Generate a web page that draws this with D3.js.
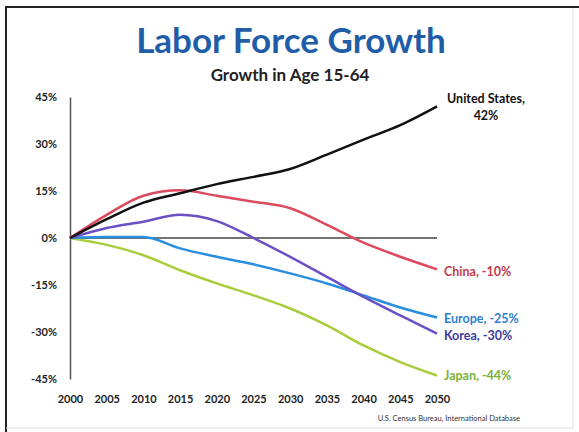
<!DOCTYPE html>
<html><head><meta charset="utf-8">
<script src="https://cdn.jsdelivr.net/npm/d3@7"></script>
<style>body{margin:0;background:#fff}svg{display:block}</style>
</head><body>
<svg id="c" width="579" height="432"></svg>
<script>
const years = [2000,2005,2010,2015,2020,2025,2030,2035,2040,2045,2050];
const yTicks = [45,30,15,0,-15,-30,-45];
const usValues = [0,6,11.3,14.3,17.2,19.5,22,26.6,31.4,36,42];
const chinaValues = [0,7.4,13.5,15.2,13.5,11.6,9.5,4.2,-1.5,-6,-10];
const koreaValues = [0,3.2,5.2,7.4,5.4,0,-6,-12.4,-18.8,-24.7,-30.5];
const europeValues = [0,0.3,0.3,-3.3,-6,-8.4,-11.3,-14.5,-18.3,-22.2,-25.4];
const japanValues = [0,-2.2,-5.5,-10.3,-14.5,-18.3,-22.5,-27.9,-34.3,-39.6,-43.9];
const seriesNames = ["United States","China","Korea","Europe","Japan"];
const seriesLabels = ["42%","China, -10%","Korea, -30%","Europe, -25%","Japan, -44%"];

const svg = d3.select("#c");
const font = "Lato, 'Open Sans', sans-serif";

// frame
svg.append("line").attr("x1",6).attr("x2",579).attr("y1",7).attr("y2",7).attr("stroke","#222").attr("stroke-width",2);
svg.append("line").attr("x1",6).attr("x2",6).attr("y1",6).attr("y2",432).attr("stroke","#222").attr("stroke-width",2);
svg.append("line").attr("x1",573).attr("x2",573).attr("y1",8).attr("y2",428).attr("stroke","#ddd").attr("stroke-width",1);
svg.append("line").attr("x1",6).attr("x2",573).attr("y1",428).attr("y2",428).attr("stroke","#ddd").attr("stroke-width",1);

// titles
svg.append("text").attr("x",291).attr("y",53).attr("text-anchor","middle")
  .attr("font-family",font).attr("font-weight","bold").attr("font-size",35).attr("fill","#1f5ea6")
  .text("Labor Force Growth");
svg.append("text").attr("x",290).attr("y",81).attr("text-anchor","middle")
  .attr("font-family",font).attr("font-weight","bold").attr("font-size",17).attr("fill","#222")
  .text("Growth in Age 15-64");

const x = d3.scaleLinear().domain([2000,2050]).range([70,437]);
const y = d3.scaleLinear().domain([-45,45]).range([379,97]);

// y axis
const yAxis = svg.append("g").attr("transform","translate(70,0)")
  .call(d3.axisLeft(y).tickValues(yTicks).tickSize(0).tickPadding(13).tickFormat(d=>d+"%"));
yAxis.select(".domain").attr("stroke","#555").attr("stroke-width",1.5);
yAxis.selectAll("text").attr("font-family",font).attr("font-weight","bold").attr("font-size",11).attr("fill","#222");

// x axis labels (no line)
const xAxis = svg.append("g").attr("transform","translate(0,392)")
  .call(d3.axisBottom(x).tickValues(years).tickSize(0).tickFormat(d3.format("d")));
xAxis.select(".domain").remove();
xAxis.selectAll("text").attr("font-family",font).attr("font-weight","bold").attr("font-size",11).attr("fill","#222");

// zero line
svg.append("line").attr("x1",x(2000)).attr("x2",x(2050)).attr("y1",y(0)).attr("y2",y(0))
  .attr("stroke","#444").attr("stroke-width",1.5);

const allValues = [usValues,chinaValues,koreaValues,europeValues,japanValues];
const lineColors = ["#111111","#dc4a5e","#6a50c4","#2a8ede","#a9cc3c"];
const labelColors = ["#111111","#c23a4c","#3a3b9c","#2f80d2","#79b03a"];
const line = d3.line().x((d,i)=>x(years[i])).y(d=>y(d)).curve(d3.curveMonotoneX);
const order = [4,3,2,1,0];
order.forEach(k=>{
  svg.append("path").datum(allValues[k]).attr("d",line).attr("fill","none")
    .attr("stroke",lineColors[k]).attr("stroke-width",2.5).attr("stroke-linejoin","round");
});

// end labels
const lblFont = 12.5;
svg.append("text").attr("x",486).attr("y",103).attr("text-anchor","middle")
  .attr("font-family",font).attr("font-weight","bold").attr("font-size",lblFont).attr("fill","#111")
  .text(seriesNames[0]+",");
svg.append("text").attr("x",486).attr("y",120).attr("text-anchor","middle")
  .attr("font-family",font).attr("font-weight","bold").attr("font-size",lblFont).attr("fill","#111")
  .text(seriesLabels[0]);
const labelY = [null,276,340,323,380];
[1,2,3,4].forEach(k=>{
  svg.append("text").attr("x",444).attr("y",labelY[k])
    .attr("font-family",font).attr("font-weight","bold").attr("font-size",lblFont).attr("fill",labelColors[k])
    .text(seriesLabels[k]);
});

// source
svg.append("text").attr("x",520).attr("y",421).attr("text-anchor","end")
  .attr("font-family",font).attr("font-size",7.5).attr("fill","#333")
  .text("U.S. Census Bureau, International Database");
</script>
</body></html>
